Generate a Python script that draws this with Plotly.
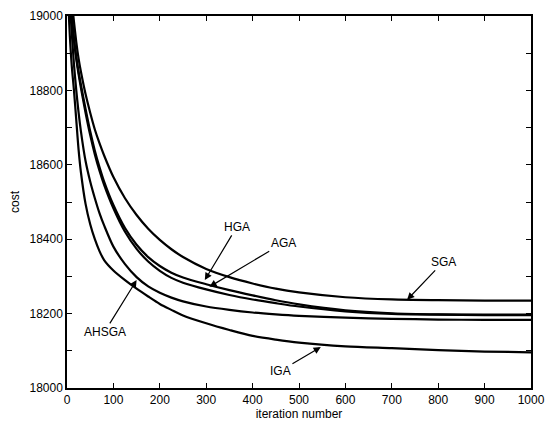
import plotly.graph_objects as go

iters = [0, 5, 10, 15, 20, 25, 30, 40, 50, 60, 70, 80, 100, 125, 150, 175, 200, 225,
         250, 300, 350, 400, 450, 500, 600, 700, 800, 900, 1000]

sga = [19250, 19120, 19045, 18985, 18930, 18885, 18850, 18790, 18740, 18695, 18658, 18625,
       18567, 18510, 18465, 18428, 18398, 18373, 18352, 18320, 18298, 18281, 18267, 18257,
       18244, 18238, 18236, 18235, 18235]
hga = [19200, 19090, 19005, 18940, 18890, 18850, 18815, 18750, 18690, 18638, 18594, 18555,
       18492, 18430, 18385, 18352, 18328, 18310, 18297, 18279, 18263, 18249, 18236, 18225,
       18209, 18201, 18198, 18197, 18197]
aga = [19200, 19085, 19000, 18935, 18884, 18843, 18807, 18740, 18680, 18628, 18584, 18546,
       18483, 18420, 18374, 18340, 18315, 18296, 18283, 18265, 18250, 18238, 18228, 18219,
       18206, 18199, 18197, 18196, 18196]
ahsga = [19180, 19060, 18960, 18870, 18800, 18740, 18690, 18610, 18555, 18510, 18470, 18437,
         18380, 18333, 18298, 18273, 18256, 18243, 18233, 18219, 18210, 18203, 18198, 18194,
         18189, 18186, 18184, 18183, 18183]
iga = [19150, 18975, 18870, 18800, 18720, 18640, 18580, 18495, 18440, 18400, 18368, 18344,
       18316, 18290, 18267, 18246, 18226, 18210, 18195, 18174, 18156, 18140, 18130, 18122,
       18112, 18107, 18102, 18098, 18096]

series = {"SGA": sga, "HGA": hga, "AGA": aga, "AHSGA": ahsga, "IGA": iga}

# label text position and arrow tip (data coords)
labels = ["HGA", "AGA", "SGA", "IGA", "AHSGA"]
label_x = [366, 466, 811, 460, 81]
label_y = [18433, 18390, 18339, 18046, 18151]
tip_x = [297, 307, 733, 547, 150]
tip_y = [18290, 18272, 18237, 18110, 18290]

xticks = list(range(0, 1001, 100))
yticks = list(range(18000, 19001, 200))

fig = go.Figure()
for name, vals in series.items():
    fig.add_trace(go.Scatter(x=iters, y=vals, mode="lines", name=name,
                             line=dict(color="black", width=2.2, shape="spline", smoothing=0.8)))

for t, lx, ly, tx, ty in zip(labels, label_x, label_y, tip_x, tip_y):
    fig.add_annotation(x=tx, y=ty, ax=lx, ay=ly, axref="x", ayref="y", xref="x", yref="y",
                       text=t, showarrow=True, arrowhead=2, arrowsize=1.2, arrowwidth=1.2,
                       arrowcolor="black", standoff=0,
                       font=dict(family="Liberation Sans, Arial, sans-serif", size=12, color="black"))

axis_font = dict(family="Liberation Sans, Arial, sans-serif", size=12, color="black")
fig.update_layout(
    width=546, height=420,
    margin=dict(l=59, r=23, t=8, b=40),
    paper_bgcolor="white", plot_bgcolor="white",
    showlegend=False,
    font=axis_font,
    xaxis=dict(range=[0, 1000], tickvals=xticks, ticks="inside", ticklen=5, tickcolor="black",
               showline=True, linecolor="black", linewidth=1.5, mirror="ticks", showgrid=False,
               zeroline=False, tickfont=axis_font, automargin=False, ticklabeloverflow="allow",
               title=dict(text="iteration number", font=axis_font, standoff=2)),
    yaxis=dict(range=[18000, 19000], tickvals=yticks, tickformat="d", ticks="inside", ticklen=5,
               tickcolor="black", showline=True, linecolor="black", linewidth=1.5, mirror="ticks",
               showgrid=False, zeroline=False, tickfont=axis_font, automargin=False,
               minor=dict(dtick=100, ticks="inside", ticklen=5, tickcolor="black", showgrid=False),
               title=dict(text="cost", font=axis_font, standoff=10)),
)

fig.write_html("out.html")
